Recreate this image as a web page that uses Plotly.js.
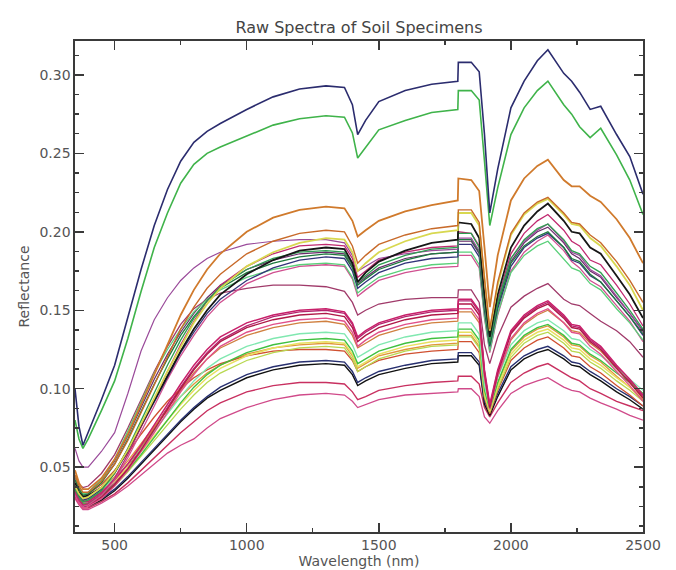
<!DOCTYPE html>
<html>
<head>
<meta charset="utf-8">
<script src="https://cdn.plot.ly/plotly-3.0.1.min.js"></script>
<style>html,body{margin:0;padding:0;background:#fff;}#chart{width:676px;height:570px;}</style>
</head>
<body>
<div id="chart"></div>
<script>
// Wavelength grid (nm)
const wavelength = [350, 365, 380, 400, 450, 500, 550, 600, 650, 700, 750, 800, 850, 900, 1000, 1100, 1200, 1300, 1370, 1400, 1420, 1450, 1500, 1600, 1700, 1799, 1801, 1850, 1880, 1900, 1920, 1950, 2000, 2050, 2100, 2140, 2200, 2230, 2260, 2300, 2340, 2400, 2450, 2500];

// Reflectance of each specimen
const s01 = [0.100, 0.076, 0.064, 0.072, 0.093, 0.115, 0.145, 0.176, 0.204, 0.227, 0.245, 0.257, 0.264, 0.269, 0.278, 0.286, 0.291, 0.293, 0.292, 0.281, 0.262, 0.271, 0.283, 0.290, 0.294, 0.296, 0.308, 0.308, 0.302, 0.262, 0.212, 0.240, 0.279, 0.296, 0.309, 0.316, 0.301, 0.296, 0.289, 0.278, 0.280, 0.262, 0.248, 0.224];
const s02 = [0.080, 0.068, 0.062, 0.068, 0.086, 0.105, 0.132, 0.162, 0.190, 0.212, 0.231, 0.243, 0.250, 0.254, 0.261, 0.268, 0.272, 0.274, 0.273, 0.263, 0.247, 0.254, 0.265, 0.271, 0.276, 0.278, 0.290, 0.290, 0.284, 0.245, 0.204, 0.228, 0.262, 0.279, 0.290, 0.296, 0.281, 0.275, 0.267, 0.260, 0.266, 0.249, 0.233, 0.211];
const s03 = [0.048, 0.040, 0.036, 0.036, 0.043, 0.055, 0.071, 0.090, 0.110, 0.129, 0.147, 0.163, 0.176, 0.186, 0.200, 0.209, 0.214, 0.216, 0.215, 0.207, 0.197, 0.201, 0.207, 0.213, 0.217, 0.220, 0.234, 0.233, 0.226, 0.190, 0.152, 0.185, 0.220, 0.234, 0.242, 0.246, 0.233, 0.229, 0.229, 0.223, 0.219, 0.208, 0.196, 0.180];
const s04 = [0.045, 0.038, 0.034, 0.034, 0.041, 0.052, 0.067, 0.085, 0.103, 0.121, 0.138, 0.152, 0.164, 0.173, 0.186, 0.194, 0.199, 0.201, 0.200, 0.191, 0.180, 0.185, 0.192, 0.198, 0.202, 0.204, 0.214, 0.214, 0.206, 0.170, 0.138, 0.168, 0.199, 0.212, 0.219, 0.222, 0.212, 0.206, 0.205, 0.198, 0.193, 0.181, 0.169, 0.155];
const s05 = [0.038, 0.033, 0.030, 0.031, 0.037, 0.047, 0.061, 0.077, 0.094, 0.111, 0.127, 0.142, 0.154, 0.164, 0.178, 0.187, 0.193, 0.196, 0.195, 0.187, 0.175, 0.180, 0.187, 0.194, 0.199, 0.201, 0.212, 0.212, 0.204, 0.168, 0.137, 0.166, 0.198, 0.211, 0.218, 0.221, 0.211, 0.205, 0.204, 0.196, 0.191, 0.178, 0.166, 0.150];
const s06 = [0.040, 0.034, 0.031, 0.032, 0.037, 0.047, 0.061, 0.077, 0.093, 0.109, 0.124, 0.138, 0.150, 0.160, 0.173, 0.182, 0.188, 0.190, 0.189, 0.180, 0.168, 0.174, 0.181, 0.188, 0.193, 0.195, 0.206, 0.205, 0.196, 0.160, 0.133, 0.160, 0.190, 0.204, 0.213, 0.218, 0.207, 0.200, 0.199, 0.190, 0.186, 0.172, 0.160, 0.145];
const s07 = [0.036, 0.031, 0.028, 0.029, 0.035, 0.046, 0.062, 0.080, 0.098, 0.115, 0.131, 0.145, 0.156, 0.165, 0.176, 0.183, 0.187, 0.188, 0.187, 0.179, 0.168, 0.172, 0.179, 0.185, 0.189, 0.190, 0.199, 0.199, 0.190, 0.155, 0.130, 0.155, 0.183, 0.195, 0.202, 0.205, 0.195, 0.188, 0.186, 0.178, 0.174, 0.161, 0.150, 0.138];
const s08 = [0.062, 0.054, 0.050, 0.050, 0.060, 0.072, 0.097, 0.124, 0.144, 0.158, 0.169, 0.177, 0.183, 0.187, 0.192, 0.194, 0.195, 0.195, 0.193, 0.185, 0.175, 0.178, 0.183, 0.186, 0.188, 0.189, 0.196, 0.196, 0.188, 0.154, 0.131, 0.156, 0.183, 0.194, 0.201, 0.205, 0.194, 0.187, 0.185, 0.176, 0.172, 0.159, 0.148, 0.136];
const s09 = [0.034, 0.029, 0.026, 0.027, 0.033, 0.043, 0.058, 0.075, 0.093, 0.111, 0.128, 0.143, 0.156, 0.166, 0.178, 0.186, 0.191, 0.192, 0.191, 0.183, 0.171, 0.175, 0.182, 0.187, 0.190, 0.191, 0.200, 0.199, 0.191, 0.157, 0.131, 0.157, 0.186, 0.199, 0.207, 0.211, 0.201, 0.194, 0.191, 0.182, 0.179, 0.166, 0.154, 0.140];
const s10 = [0.042, 0.036, 0.032, 0.033, 0.040, 0.052, 0.068, 0.086, 0.103, 0.119, 0.134, 0.146, 0.156, 0.164, 0.174, 0.180, 0.184, 0.186, 0.185, 0.177, 0.166, 0.170, 0.176, 0.182, 0.186, 0.187, 0.195, 0.195, 0.187, 0.152, 0.128, 0.153, 0.180, 0.191, 0.197, 0.200, 0.190, 0.183, 0.181, 0.173, 0.168, 0.156, 0.146, 0.135];
const s11 = [0.037, 0.032, 0.029, 0.030, 0.036, 0.046, 0.060, 0.076, 0.092, 0.108, 0.123, 0.136, 0.148, 0.157, 0.169, 0.177, 0.182, 0.184, 0.183, 0.175, 0.164, 0.168, 0.174, 0.180, 0.183, 0.184, 0.192, 0.192, 0.184, 0.150, 0.127, 0.151, 0.178, 0.190, 0.196, 0.199, 0.190, 0.182, 0.180, 0.172, 0.168, 0.156, 0.146, 0.134];
const s12 = [0.045, 0.038, 0.033, 0.034, 0.042, 0.055, 0.073, 0.092, 0.110, 0.125, 0.138, 0.149, 0.157, 0.163, 0.171, 0.176, 0.179, 0.180, 0.179, 0.171, 0.161, 0.165, 0.171, 0.176, 0.179, 0.180, 0.187, 0.187, 0.179, 0.146, 0.124, 0.148, 0.174, 0.185, 0.191, 0.194, 0.183, 0.177, 0.175, 0.167, 0.163, 0.151, 0.142, 0.131];
const s13 = [0.033, 0.028, 0.025, 0.026, 0.032, 0.042, 0.056, 0.072, 0.089, 0.106, 0.121, 0.134, 0.146, 0.155, 0.167, 0.174, 0.178, 0.179, 0.178, 0.170, 0.159, 0.163, 0.169, 0.174, 0.177, 0.178, 0.185, 0.185, 0.177, 0.145, 0.123, 0.147, 0.175, 0.187, 0.194, 0.198, 0.188, 0.181, 0.177, 0.169, 0.165, 0.153, 0.143, 0.130];
const s14 = [0.045, 0.039, 0.037, 0.038, 0.046, 0.058, 0.075, 0.093, 0.111, 0.127, 0.141, 0.151, 0.157, 0.161, 0.164, 0.166, 0.166, 0.165, 0.162, 0.155, 0.147, 0.150, 0.154, 0.157, 0.158, 0.158, 0.163, 0.163, 0.155, 0.128, 0.116, 0.133, 0.152, 0.159, 0.164, 0.167, 0.157, 0.154, 0.153, 0.148, 0.143, 0.137, 0.130, 0.120];
const s15 = [0.036, 0.031, 0.028, 0.028, 0.034, 0.042, 0.052, 0.064, 0.077, 0.090, 0.103, 0.115, 0.125, 0.133, 0.142, 0.147, 0.150, 0.151, 0.149, 0.142, 0.133, 0.137, 0.142, 0.147, 0.150, 0.151, 0.157, 0.157, 0.150, 0.112, 0.090, 0.112, 0.137, 0.147, 0.153, 0.156, 0.147, 0.141, 0.140, 0.132, 0.127, 0.115, 0.106, 0.096];
const s16 = [0.034, 0.029, 0.026, 0.026, 0.031, 0.039, 0.049, 0.061, 0.074, 0.087, 0.100, 0.112, 0.122, 0.130, 0.139, 0.144, 0.147, 0.148, 0.146, 0.139, 0.130, 0.134, 0.139, 0.144, 0.147, 0.148, 0.154, 0.154, 0.147, 0.110, 0.088, 0.110, 0.135, 0.145, 0.151, 0.154, 0.145, 0.139, 0.138, 0.130, 0.125, 0.113, 0.104, 0.094];
const s17 = [0.032, 0.027, 0.024, 0.025, 0.030, 0.038, 0.048, 0.060, 0.072, 0.085, 0.098, 0.109, 0.119, 0.127, 0.136, 0.141, 0.144, 0.145, 0.143, 0.136, 0.127, 0.131, 0.136, 0.141, 0.144, 0.145, 0.151, 0.151, 0.144, 0.108, 0.087, 0.108, 0.132, 0.142, 0.148, 0.151, 0.142, 0.136, 0.135, 0.127, 0.122, 0.111, 0.102, 0.092];
const s18 = [0.038, 0.032, 0.029, 0.029, 0.034, 0.042, 0.052, 0.063, 0.075, 0.087, 0.099, 0.110, 0.119, 0.126, 0.134, 0.139, 0.142, 0.143, 0.141, 0.134, 0.126, 0.129, 0.134, 0.139, 0.142, 0.143, 0.149, 0.149, 0.142, 0.107, 0.088, 0.108, 0.131, 0.141, 0.147, 0.150, 0.142, 0.137, 0.136, 0.129, 0.124, 0.113, 0.104, 0.094];
const s19 = [0.040, 0.034, 0.031, 0.031, 0.036, 0.043, 0.052, 0.062, 0.073, 0.084, 0.095, 0.105, 0.113, 0.119, 0.127, 0.132, 0.135, 0.136, 0.135, 0.128, 0.120, 0.123, 0.128, 0.133, 0.136, 0.137, 0.142, 0.142, 0.135, 0.102, 0.089, 0.107, 0.128, 0.137, 0.142, 0.144, 0.137, 0.132, 0.131, 0.125, 0.121, 0.113, 0.106, 0.099];
const s20 = [0.035, 0.030, 0.027, 0.027, 0.032, 0.039, 0.048, 0.058, 0.069, 0.080, 0.091, 0.101, 0.109, 0.115, 0.123, 0.128, 0.131, 0.132, 0.131, 0.124, 0.116, 0.119, 0.124, 0.129, 0.132, 0.133, 0.138, 0.138, 0.131, 0.099, 0.087, 0.104, 0.125, 0.134, 0.139, 0.141, 0.134, 0.129, 0.128, 0.122, 0.118, 0.110, 0.104, 0.097];
const s21 = [0.037, 0.032, 0.029, 0.029, 0.034, 0.041, 0.050, 0.060, 0.070, 0.080, 0.090, 0.099, 0.107, 0.113, 0.121, 0.126, 0.129, 0.130, 0.129, 0.122, 0.114, 0.117, 0.122, 0.127, 0.130, 0.131, 0.136, 0.136, 0.129, 0.097, 0.086, 0.102, 0.122, 0.131, 0.136, 0.138, 0.131, 0.126, 0.125, 0.119, 0.115, 0.107, 0.101, 0.094];
const s22 = [0.033, 0.028, 0.026, 0.026, 0.031, 0.038, 0.047, 0.057, 0.067, 0.077, 0.087, 0.096, 0.104, 0.110, 0.118, 0.123, 0.126, 0.127, 0.126, 0.119, 0.111, 0.114, 0.119, 0.124, 0.127, 0.128, 0.133, 0.133, 0.126, 0.095, 0.085, 0.100, 0.120, 0.129, 0.134, 0.136, 0.129, 0.124, 0.123, 0.117, 0.113, 0.105, 0.099, 0.092];
const s23 = [0.042, 0.036, 0.032, 0.033, 0.039, 0.048, 0.059, 0.071, 0.082, 0.092, 0.100, 0.107, 0.112, 0.116, 0.121, 0.124, 0.125, 0.125, 0.124, 0.118, 0.111, 0.114, 0.118, 0.122, 0.124, 0.125, 0.130, 0.130, 0.123, 0.094, 0.084, 0.099, 0.118, 0.126, 0.131, 0.133, 0.126, 0.121, 0.120, 0.114, 0.110, 0.102, 0.096, 0.089];
const s24 = [0.034, 0.029, 0.026, 0.026, 0.030, 0.036, 0.044, 0.053, 0.062, 0.071, 0.080, 0.088, 0.095, 0.101, 0.109, 0.114, 0.117, 0.118, 0.117, 0.111, 0.104, 0.107, 0.111, 0.115, 0.118, 0.119, 0.123, 0.123, 0.117, 0.092, 0.085, 0.097, 0.114, 0.121, 0.125, 0.127, 0.121, 0.117, 0.116, 0.111, 0.107, 0.100, 0.095, 0.089];
const s25 = [0.032, 0.028, 0.025, 0.025, 0.029, 0.035, 0.043, 0.052, 0.061, 0.070, 0.079, 0.087, 0.094, 0.099, 0.107, 0.112, 0.115, 0.116, 0.115, 0.109, 0.102, 0.105, 0.109, 0.113, 0.116, 0.117, 0.121, 0.121, 0.115, 0.090, 0.083, 0.095, 0.112, 0.119, 0.123, 0.125, 0.119, 0.115, 0.114, 0.109, 0.105, 0.098, 0.093, 0.087];
const s26 = [0.031, 0.027, 0.024, 0.024, 0.028, 0.033, 0.040, 0.048, 0.056, 0.064, 0.072, 0.079, 0.086, 0.091, 0.098, 0.102, 0.104, 0.104, 0.103, 0.098, 0.093, 0.095, 0.099, 0.102, 0.104, 0.105, 0.108, 0.108, 0.103, 0.088, 0.082, 0.091, 0.104, 0.110, 0.114, 0.116, 0.110, 0.107, 0.105, 0.100, 0.097, 0.092, 0.089, 0.086];
const s27 = [0.030, 0.026, 0.023, 0.023, 0.027, 0.032, 0.038, 0.045, 0.052, 0.059, 0.064, 0.068, 0.075, 0.081, 0.088, 0.093, 0.096, 0.097, 0.096, 0.092, 0.088, 0.090, 0.093, 0.096, 0.097, 0.098, 0.100, 0.100, 0.095, 0.082, 0.078, 0.086, 0.097, 0.102, 0.105, 0.107, 0.101, 0.099, 0.098, 0.094, 0.091, 0.087, 0.083, 0.080];
const s28 = [0.044, 0.037, 0.033, 0.034, 0.042, 0.054, 0.070, 0.088, 0.106, 0.122, 0.136, 0.148, 0.158, 0.166, 0.176, 0.182, 0.186, 0.187, 0.186, 0.178, 0.167, 0.171, 0.177, 0.183, 0.186, 0.187, 0.194, 0.194, 0.186, 0.152, 0.129, 0.153, 0.181, 0.193, 0.200, 0.203, 0.193, 0.186, 0.183, 0.175, 0.171, 0.158, 0.148, 0.137];
const s29 = [0.039, 0.033, 0.030, 0.030, 0.036, 0.044, 0.054, 0.065, 0.076, 0.086, 0.095, 0.103, 0.110, 0.115, 0.122, 0.126, 0.128, 0.129, 0.128, 0.121, 0.113, 0.116, 0.121, 0.125, 0.128, 0.129, 0.134, 0.134, 0.127, 0.097, 0.087, 0.103, 0.124, 0.133, 0.138, 0.140, 0.133, 0.128, 0.127, 0.121, 0.117, 0.108, 0.101, 0.093];
const s30 = [0.035, 0.030, 0.027, 0.027, 0.032, 0.040, 0.050, 0.062, 0.075, 0.088, 0.101, 0.113, 0.123, 0.131, 0.140, 0.146, 0.149, 0.150, 0.148, 0.141, 0.132, 0.136, 0.141, 0.146, 0.149, 0.150, 0.156, 0.156, 0.149, 0.111, 0.089, 0.111, 0.136, 0.146, 0.152, 0.155, 0.146, 0.140, 0.139, 0.131, 0.126, 0.114, 0.105, 0.095];

const spectra = [s30, s29, s28, s27, s26, s25, s24, s23, s22, s21, s20, s19, s18, s17, s16, s15, s14, s13, s12, s11, s10, s09, s08, s07, s06, s05, s04, s03, s02, s01];

// Styles (same order as spectra)
const colors = ['#b4246e', '#e0963c', '#6a2a6a', '#d04a8a', '#c83060', '#111111', '#283070', '#d05030', '#b8d850', '#e8e060', '#40c040', '#80e8b0', '#d08040', '#e0508a', '#b01848', '#c8206a', '#a03a6a',
                '#d05090', '#5ad07a', '#32347a', '#1e7a3e', '#c02a70', '#9a4a9a', '#2e9e50', '#161616', '#d8d850', '#c86a2a', '#d07a2c', '#3fb34a', '#2b2c6e'];
const widths = [1.3, 1.3, 1.2, 1.3, 1.4, 1.4, 1.4, 1.3, 1.3, 1.5, 1.4, 1.4, 1.3, 1.4, 1.4, 1.5, 1.3,
                1.3, 1.3, 1.3, 1.3, 1.3, 1.2, 1.3, 1.8, 1.8, 1.4, 1.8, 1.6, 1.6];

const traces = spectra.map((vals, i) => ({
  type: 'scatter', mode: 'lines', x: wavelength, y: vals,
  line: {color: colors[i], width: widths[i], shape: 'linear'},
  hoverinfo: 'skip', showlegend: false
}));

const fontFam = '"DejaVu Sans", "Liberation Sans", sans-serif';
const axisCommon = {
  showline: true, linecolor: '#3a3a3a', linewidth: 1.6, mirror: 'ticks',
  ticks: 'inside', ticklen: 9, tickwidth: 1.5, tickcolor: '#3a3a3a',
  showgrid: false, zeroline: false, automargin: false,
  tickfont: {family: fontFam, size: 14, color: '#555'}
};

const layout = {
  width: 676, height: 570,
  margin: {l: 75, r: 33, t: 41, b: 38},
  paper_bgcolor: '#fff', plot_bgcolor: '#fff',
  title: {text: 'Raw Spectra of Soil Specimens', font: {family: fontFam, size: 16, color: '#444'},
          x: 0.5, xref: 'paper', y: 1 - 27/570, yref: 'container', yanchor: 'middle'},
  xaxis: Object.assign({}, axisCommon, {
    range: [350, 2500], tickvals: [500, 1000, 1500, 2000, 2500], ticktext: ['500', '1000', '1500', '2000', '2500'],
    minor: {tick0: 0, dtick: 250, ticks: 'inside', ticklen: 4, tickwidth: 1.4, tickcolor: '#3a3a3a', showgrid: false},
    title: {text: 'Wavelength (nm)', font: {family: fontFam, size: 14, color: '#555'}, standoff: 0}
  }),
  yaxis: Object.assign({}, axisCommon, {
    range: [0.0087, 0.3216], tickvals: [0.05, 0.10, 0.15, 0.20, 0.25, 0.30], ticktext: ['0.05', '0.10', '0.15', '0.20', '0.25', '0.30'],
    minor: {tick0: 0, dtick: 0.0125, ticks: 'inside', ticklen: 4, tickwidth: 1.4, tickcolor: '#3a3a3a', showgrid: false},
    title: {text: 'Reflectance', font: {family: fontFam, size: 14, color: '#555'}, standoff: 6}
  })
};

Plotly.newPlot('chart', traces, layout, {staticPlot: true, displayModeBar: false});
</script>
</body>
</html>
